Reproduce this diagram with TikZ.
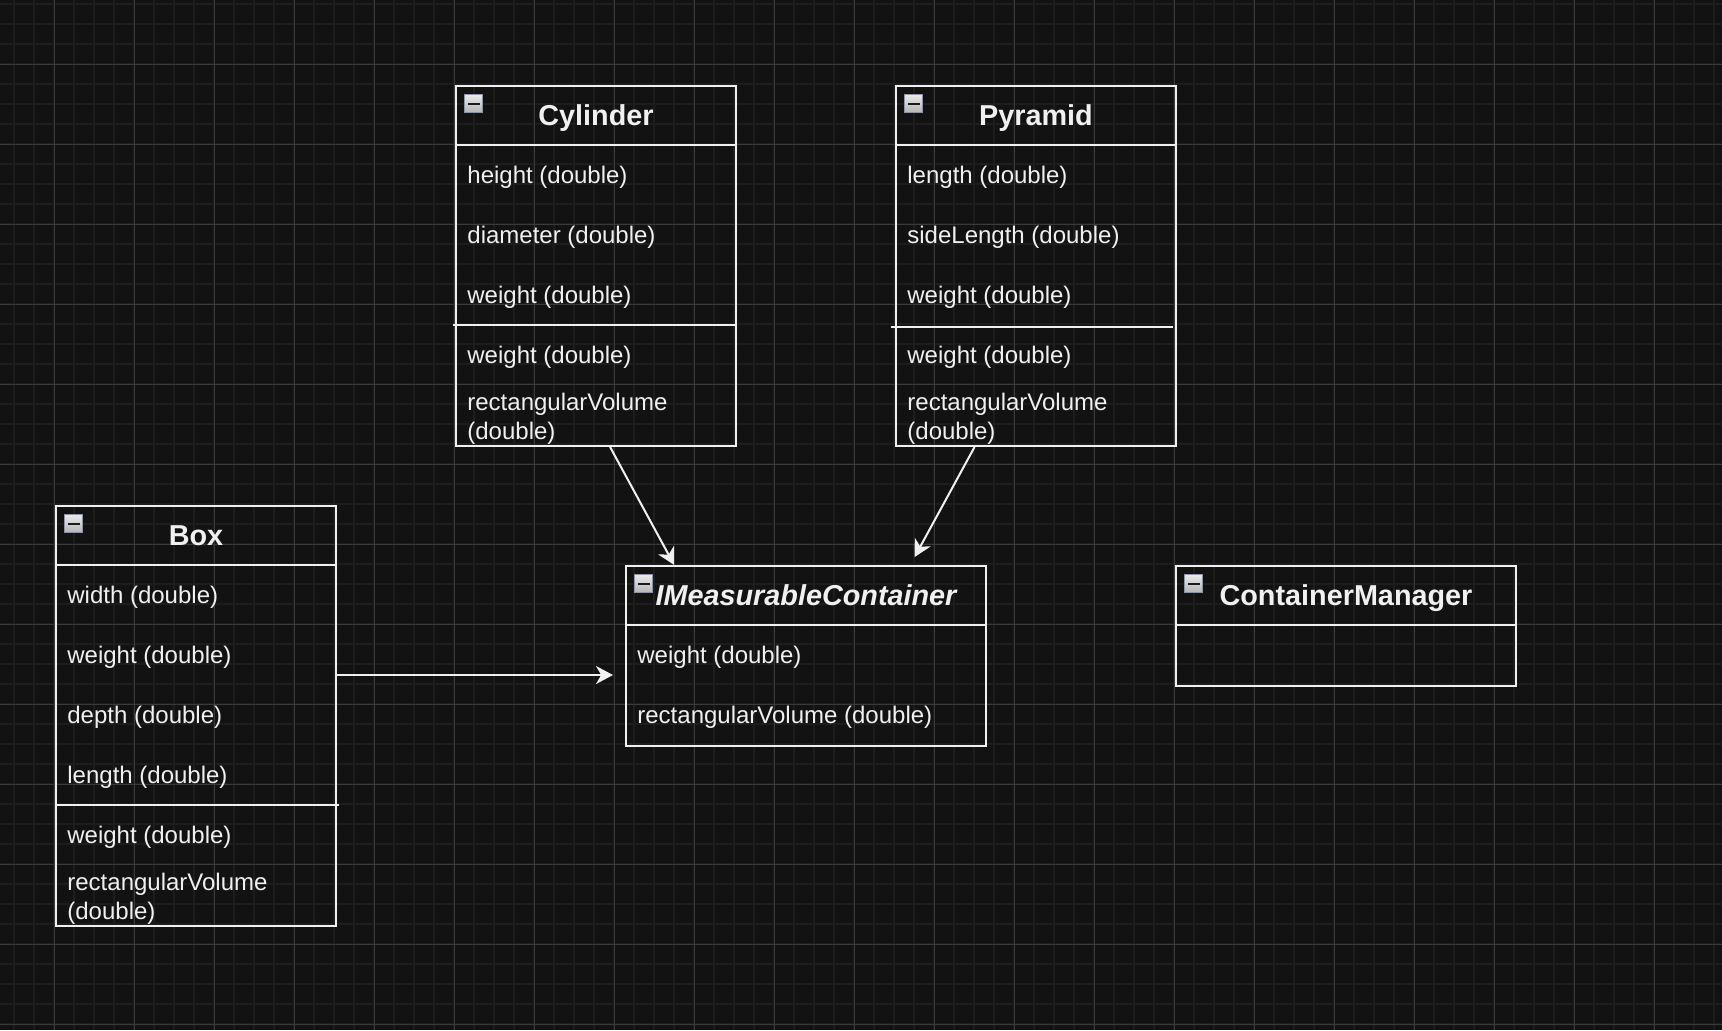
\documentclass[tikz,border=0pt]{standalone}
\usepackage{fontspec}
\setmainfont{Liberation Sans}
\usetikzlibrary{calc,arrows.meta}
\definecolor{bgc}{HTML}{121212}
\definecolor{minorc}{HTML}{1D1D1D}
\definecolor{majorc}{HTML}{3A3A3A}
\definecolor{fgc}{HTML}{F0F0F0}
\definecolor{iconb}{HTML}{8C94A6}
\definecolor{icont}{HTML}{EAEAEA}
\definecolor{iconbot}{HTML}{B4B4B4}
\definecolor{dashc}{HTML}{1A1A1A}
\tikzset{
  classbox/.style={rectangle, draw=fgc, line width=1pt, inner sep=0pt, anchor=north west},
  fgline/.style={draw=fgc, line width=1pt},
  classtitle/.style={text=fgc, inner sep=0pt, anchor=base, font=\bfseries\fontsize{14.4}{17}\selectfont},
  attr/.style={text=fgc, inner sep=0pt, anchor=base west, align=left, font=\fontsize{12}{14.4}\selectfont},
  iconbox/.style={rectangle, minimum size=9pt, inner sep=0pt, draw=iconb, line width=0.7pt,
    top color=icont, bottom color=iconbot, anchor=north west,
    path picture={\draw[line width=1pt, dashc] ([xshift=-3pt]path picture bounding box.center) -- ([xshift=3pt]path picture bounding box.center);}},
  assoc/.style={draw=fgc, line width=1pt, -{Stealth[length=8.5pt,width=9pt,inset=2.6pt]}}
}
\begin{document}
\begin{tikzpicture}[x=0.5pt,y=-0.5pt]
\fill[bgc] (0,0) rectangle (1722,1030);
\useasboundingbox (0,0) rectangle (1722,1030);
% grid
\foreach \x in {14,34,...,1714} \draw[minorc, line width=0.9pt] (\x,0) -- (\x,1030);
\foreach \y in {4,24,...,1024} \draw[minorc, line width=0.9pt] (0,\y) -- (1722,\y);
\foreach \x in {54,134,...,1694} \draw[majorc, line width=0.5pt] (\x,0) -- (\x,1030);
\foreach \y in {64,144,...,1024} \draw[majorc, line width=0.5pt] (0,\y) -- (1722,\y);

% Cylinder
\node[classbox, minimum width=140pt, minimum height=180pt] (cyl) at (455,85) {};
\draw[fgline] ($(cyl.north west)+(0,60)$) -- ($(cyl.north east)+(0,60)$);
\draw[fgline] ($(cyl.north west)+(-2,240)$) -- ($(cyl.north east)+(-2,240)$);
\node[iconbox] (cyl-i) at ($(cyl.north west)+(9,9)$) {};
\node[classtitle] (cyl-t) at ($(cyl.north)+(0,40)$) {Cylinder};
\node[attr] (cyl-a1) at ($(cyl.north west)+(12,98)$) {height (double)};
\node[attr] (cyl-a2) at ($(cyl.north west)+(12,158)$) {diameter (double)};
\node[attr] (cyl-a3) at ($(cyl.north west)+(12,218)$) {weight (double)};
\node[attr] (cyl-m1) at ($(cyl.north west)+(12,278)$) {weight (double)};
\node[attr] (cyl-m2) at ($(cyl.north west)+(12,354)$) {rectangularVolume\\(double)};

% Pyramid
\node[classbox, minimum width=140pt, minimum height=180pt] (pyr) at (895,85) {};
\draw[fgline] ($(pyr.north west)+(0,60)$) -- ($(pyr.north east)+(0,60)$);
\draw[fgline] ($(pyr.north west)+(-4,242)$) -- ($(pyr.north east)+(-4,242)$);
\node[iconbox] (pyr-i) at ($(pyr.north west)+(9,9)$) {};
\node[classtitle] (pyr-t) at ($(pyr.north)+(0,40)$) {Pyramid};
\node[attr] (pyr-a1) at ($(pyr.north west)+(12,98)$) {length (double)};
\node[attr] (pyr-a2) at ($(pyr.north west)+(12,158)$) {sideLength (double)};
\node[attr] (pyr-a3) at ($(pyr.north west)+(12,218)$) {weight (double)};
\node[attr] (pyr-m1) at ($(pyr.north west)+(12,278)$) {weight (double)};
\node[attr] (pyr-m2) at ($(pyr.north west)+(12,354)$) {rectangularVolume\\(double)};

% Box
\node[classbox, minimum width=140pt, minimum height=210pt] (box) at (55,505) {};
\draw[fgline] ($(box.north west)+(0,60)$) -- ($(box.north east)+(0,60)$);
\draw[fgline] ($(box.north west)+(2,300)$) -- ($(box.north east)+(2,300)$);
\node[iconbox] (box-i) at ($(box.north west)+(9,9)$) {};
\node[classtitle] (box-t) at ($(box.north)+(0,40)$) {Box};
\node[attr] (box-a1) at ($(box.north west)+(12,98)$) {width (double)};
\node[attr] (box-a2) at ($(box.north west)+(12,158)$) {weight (double)};
\node[attr] (box-a3) at ($(box.north west)+(12,218)$) {depth (double)};
\node[attr] (box-a4) at ($(box.north west)+(12,278)$) {length (double)};
\node[attr] (box-m1) at ($(box.north west)+(12,338)$) {weight (double)};
\node[attr] (box-m2) at ($(box.north west)+(12,414)$) {rectangularVolume\\(double)};

% IMeasurableContainer
\node[classbox, minimum width=180pt, minimum height=90pt] (imc) at (625,565) {};
\draw[fgline] ($(imc.north west)+(0,60)$) -- ($(imc.north east)+(0,60)$);
\node[iconbox] (imc-i) at ($(imc.north west)+(9,9)$) {};
\node[classtitle, font=\bfseries\itshape\fontsize{14.4}{17}\selectfont] (imc-t) at ($(imc.north)+(0,40)$) {IMeasurableContainer};
\node[attr] (imc-a1) at ($(imc.north west)+(12,98)$) {weight (double)};
\node[attr] (imc-a2) at ($(imc.north west)+(12,158)$) {rectangularVolume (double)};

% ContainerManager
\node[classbox, minimum width=170pt, minimum height=60pt] (cm) at (1175,565) {};
\draw[fgline] ($(cm.north west)+(0,60)$) -- ($(cm.north east)+(0,60)$);
\node[iconbox] (cm-i) at ($(cm.north west)+(9,9)$) {};
\node[classtitle] (cm-t) at ($(cm.north)+(0,40)$) {ContainerManager};

% connectors
\coordinate (cylend) at ($(imc.north west)!0.136!(imc.north east)$);
\coordinate (pyrend) at ($(imc.north west)!0.8!(imc.north east)+(0,-8)$);
\coordinate (boxend) at ($(imc.north west)+(-12,110)$);
\draw[assoc] ($(cyl.south west)!0.55!(cyl.south east)$) -- (cylend);
\draw[assoc] ($(pyr.south west)!0.282!(pyr.south east)$) -- (pyrend);
\draw[assoc] (box.east |- boxend) -- (boxend);
\end{tikzpicture}
\end{document}
